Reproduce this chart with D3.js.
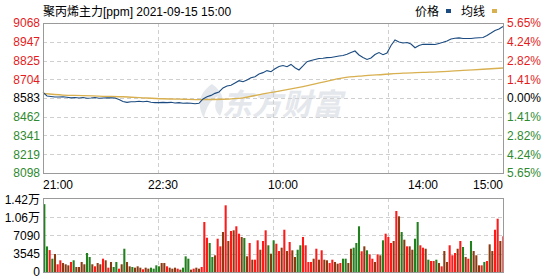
<!DOCTYPE html>
<html>
<head>
<meta charset="utf-8">
<script src="https://cdn.jsdelivr.net/npm/d3@7"></script>
<style>
  body { margin: 0; background: #fff; }
  svg text { font-family: "Liberation Sans", "Noto Sans CJK SC", sans-serif; }
</style>
</head>
<body>
<div id="chart"></div>
<script>
// trading minutes: 21:00-23:00, 9:00-10:15, 10:30-11:30, 13:30-15:00 => 345 min
var totalMinutes = 345;
var timeLabels = ["21:00", "22:30", "10:00", "14:00", "15:00"];
var timeLabelMinutes = [0, 90, 180, 285, 345];

var preClose = 8583;
var priceTicks = [9068, 8947, 8825, 8704, 8583, 8462, 8341, 8219, 8098];
var pctTicks = ["5.65%", "4.24%", "2.82%", "1.41%", "0.00%", "1.41%", "2.82%", "4.24%", "5.65%"];

var volTicks = [14180, 10635, 7090, 3545, 0];
var volTickLabels = ["1.42万", "1.06万", "7090", "3545", "0"];

// price, one point every 3 minutes
var price = [
  8619, 8596, 8593, 8589, 8589, 8591, 8588, 8584, 8586, 8583,
  8586, 8581, 8583, 8586, 8581, 8583, 8585, 8584, 8583, 8573,
  8560, 8555, 8559, 8559, 8562, 8559, 8562, 8555, 8553, 8553,
  8555, 8553, 8555, 8551, 8553, 8549, 8551, 8549, 8546, 8549,
  8577, 8591, 8600, 8613, 8622, 8648, 8661, 8665, 8680, 8695,
  8688, 8699, 8714, 8721, 8738, 8747, 8760, 8753, 8772, 8787,
  8793, 8785, 8800, 8779, 8764, 8790, 8818, 8826, 8832, 8838,
  8840, 8844, 8845, 8850, 8855, 8858, 8866, 8877, 8887, 8861,
  8845, 8832, 8842, 8864, 8877, 8863, 8874, 8923, 8958, 8945,
  8939, 8942, 8932, 8908, 8923, 8930, 8930, 8930, 8929, 8936,
  8943, 8952, 8965, 8969, 8972, 8968, 8968, 8968, 8971, 8973,
  8974, 8987, 9003, 9020, 9029, 9045
];

// average price, one point every 15 minutes
var avgPrice = [
  8612, 8602, 8599, 8594, 8591, 8584, 8578, 8575, 8573, 8575,
  8584, 8610, 8632, 8657, 8686, 8713, 8726, 8735, 8744, 8749,
  8754, 8762, 8769, 8777
];

// volume, one bar every 2 minutes
var volume = [
  13000, 4900, 4200, 2550, 3450, 1480, 2240, 1720, 1480, 1280,
  1920, 2240, 960, 960, 1920, 1480, 3640, 2870, 1480, 1090,
  1720, 1480, 2550, 2240, 830, 1920, 960, 1920, 640, 1480,
  4460, 1920, 1090, 960, 830, 1090, 830, 520, 830, 640,
  830, 640, 1280, 1090, 1720, 1720, 1090, 830, 640, 830,
  640, 450, 830, 3000, 2550, 450, 640, 830, 640, 960,
  9580, 6570, 5560, 2870, 3200, 6380, 4920, 7660, 12780, 5940,
  7860, 7990, 8760, 7340, 6710, 6510, 3010, 5560, 2360, 2360,
  6070, 4270, 5940, 7990, 5120, 3510, 6070, 5420, 4020, 4660,
  8100, 4020, 5750, 4160, 2870, 4270, 5120, 6710, 5120, 1920,
  1920, 2550, 4460, 2360, 4160, 2360, 2240, 1720, 2360, 1920,
  1590, 1720, 2550, 2550, 1720, 4460, 4660, 5560, 8760, 3970,
  4920, 4160, 3390, 2550, 1920, 3390, 3200, 6070, 7340, 6710,
  5560, 5940, 11690, 10670, 7660, 6190, 4920, 4920, 4270, 6380,
  9580, 5120, 4660, 4460, 2360, 2110, 2110, 2360, 1720, 1090,
  4020, 1920, 5120, 3200, 3640, 4460, 5940, 4790, 2870, 2550,
  5940, 4020, 3200, 1280, 1280, 1920, 2110, 5300, 4020, 8100,
  10210, 5940, 6840
];
// 1 = up, -1 = down, 0 = mixed inside the bar
var volumeDir = [
  -1, -1, 1, -1, 0, 1, 1, 0, 0, 0,
  1, -1, 0, 0, 0, 0, -1, -1, 0, 1,
  0, 0, 1, 0, 1, 0, -1, -1, 1, 0,
  -1, 0, 0, -1, 0, 0, 0, 1, 0, 0,
  -1, -1, -1, -1, 0, 0, 1, 0, 0, 0,
  1, 0, -1, -1, -1, 0, 1, 0, 0, 1,
  1, 1, -1, -1, 0, 1, 1, 0, 1, 0,
  1, 0, 1, 1, 0, -1, 0, 1, 0, 1,
  1, 0, 1, 1, -1, 0, -1, 1, 1, 0,
  1, 0, 1, 0, 0, -1, -1, 1, 1, 1,
  1, 0, 1, 0, 1, 0, 0, 1, 1, 0,
  0, 1, -1, -1, 0, 0, -1, -1, -1, 1,
  0, -1, 1, 1, 0, 1, 0, -1, 1, 1,
  1, 0, 1, 0, -1, 0, 1, 0, 0, -1,
  -1, 1, 1, 0, -1, 1, 1, -1, 0, 1,
  0, 0, 1, 1, 1, 0, 1, -1, 0, 1,
  -1, 0, 0, 0, 1, -1, 1, 0, 0, 1,
  1, 0, 1
];

var W = 546, H = 279;
var left = 43, right = 503;
var red = "#e41c1c", green = "#2f8a2f";

var svg = d3.select("#chart").append("svg")
  .attr("width", W)
  .attr("height", H)
  .style("display", "block");

var x = d3.scaleLinear().domain([0, totalMinutes]).range([left, right]);
var y = d3.scaleLinear().domain([8098, 9068]).range([173, 23]);
var yv = d3.scaleLinear().domain([0, 14180]).range([272, 198]);

function tickColor(v) {
  if (v > preClose) return red;
  if (v < preClose) return green;
  return "#000";
}

// ======== Watermark ========
var wm = svg.append("g").attr("fill", "#e4e7ec");
wm.append("path")
  .attr("d", "M212,84 C200,92 196,104 204,118 C206,108 210,100 218,96 C214,104 214,110 220,116 C226,104 224,92 212,84 Z");
wm.append("text")
  .attr("x", 222)
  .attr("y", 115)
  .attr("font-size", 30)
  .attr("font-weight", "bold")
  .attr("font-style", "italic")
  .style("font-family", "'Noto Sans CJK SC', sans-serif")
  .text("东方财富");

// ======== Grid ========
var grid = svg.append("g")
  .attr("stroke", "#cfcfcf")
  .attr("stroke-dasharray", "4,3")
  .attr("shape-rendering", "crispEdges");

grid.selectAll(".hgrid")
  .data(priceTicks.slice(1, -1))
  .enter().append("line")
  .attr("x1", left).attr("x2", right)
  .attr("y1", function (d) { return Math.round(y(d)) + 0.5; })
  .attr("y2", function (d) { return Math.round(y(d)) + 0.5; });

grid.selectAll(".vgrid")
  .data(volTicks.slice(1, -1))
  .enter().append("line")
  .attr("x1", left).attr("x2", right)
  .attr("y1", function (d) { return Math.round(yv(d)) + 0.5; })
  .attr("y2", function (d) { return Math.round(yv(d)) + 0.5; });

var quarterMinutes = [1, 2, 3].map(function (i) { return totalMinutes * i / 4; });
quarterMinutes.forEach(function (m) {
  var xx = Math.round(x(m)) + 0.5;
  grid.append("line").attr("x1", xx).attr("x2", xx).attr("y1", 23).attr("y2", 173);
  grid.append("line").attr("x1", xx).attr("x2", xx).attr("y1", 198).attr("y2", 272);
});

// ======== Volume bars ========
var barStep = 2;
svg.append("g").selectAll("rect")
  .data(volume)
  .enter().append("rect")
  .attr("x", function (d, i) { return x(i * barStep) + 0.3; })
  .attr("width", function (d, i) { return Math.max(0.5, x(Math.min((i + 1) * barStep, totalMinutes)) - x(i * barStep) - 0.6); })
  .attr("y", function (d) { return yv(d); })
  .attr("height", function (d) { return yv(0) - yv(d); })
  .attr("fill", function (d, i) {
    var s = volumeDir[i];
    return s > 0 ? "#ff1a1a" : (s < 0 ? "#23801f" : "#8a3a12");
  });

// ======== Lines ========
var avgLine = d3.line()
  .x(function (d, i) { return x(i * 15); })
  .y(function (d) { return y(d); })
  .curve(d3.curveMonotoneX);

svg.append("path")
  .datum(avgPrice)
  .attr("fill", "none")
  .attr("stroke", "#d8b050")
  .attr("stroke-width", 1.3)
  .attr("d", avgLine);

var priceLine = d3.line()
  .x(function (d, i) { return x(i * 3); })
  .y(function (d) { return y(d); });

svg.append("path")
  .datum(price)
  .attr("fill", "none")
  .attr("stroke", "#1b4b80")
  .attr("stroke-width", 1.1)
  .attr("d", priceLine);

// ======== Frames ========
var frame = svg.append("g")
  .attr("fill", "none")
  .attr("stroke", "#9a9a9a")
  .attr("shape-rendering", "crispEdges");
frame.append("rect").attr("x", left + 0.5).attr("y", 23.5).attr("width", right - left).attr("height", 150);
frame.append("rect").attr("x", left + 0.5).attr("y", 198.5).attr("width", right - left).attr("height", 74);

// ======== Axis labels ========
svg.append("g").selectAll("text")
  .data(priceTicks)
  .enter().append("text")
  .attr("x", 40)
  .attr("y", function (d) { return y(d); })
  .attr("dy", "0.36em")
  .attr("text-anchor", "end")
  .attr("font-size", 12)
  .attr("fill", tickColor)
  .text(function (d) { return d; });

svg.append("g").selectAll("text")
  .data(pctTicks)
  .enter().append("text")
  .attr("x", 507)
  .attr("y", function (d, i) { return y(priceTicks[i]); })
  .attr("dy", "0.36em")
  .attr("font-size", 12)
  .attr("fill", function (d, i) { return tickColor(priceTicks[i]); })
  .text(function (d) { return d; });

svg.append("g").selectAll("text")
  .data(timeLabels)
  .enter().append("text")
  .attr("x", function (d, i) { return x(timeLabelMinutes[i]); })
  .attr("y", 189)
  .attr("text-anchor", function (d, i) {
    return i == 0 ? "start" : (i == timeLabels.length - 1 ? "end" : "middle");
  })
  .attr("font-size", 12)
  .attr("fill", "#000")
  .text(function (d) { return d; });

// volume labels sit a little lower at the top, flush at the bottom
svg.append("g").selectAll("text")
  .data(volTicks)
  .enter().append("text")
  .attr("x", 40)
  .attr("y", function (d, i) { return yv(d) + 2 - i * 0.5; })
  .attr("dy", "0.34em")
  .attr("text-anchor", "end")
  .attr("font-size", 12)
  .attr("fill", "#000")
  .text(function (d, i) { return volTickLabels[i]; });

// ======== Title & legend ========
svg.append("text")
  .attr("x", 43)
  .attr("y", 16)
  .attr("font-size", 12)
  .attr("fill", "#000")
  .text("聚丙烯主力[ppm] 2021-09-15 15:00");

var legend = svg.append("g").attr("font-size", 12).attr("fill", "#000");
legend.append("text").attr("x", 415).attr("y", 16).text("价格");
legend.append("rect").attr("x", 446).attr("y", 9).attr("width", 5).attr("height", 4).attr("fill", "#1b4b80");
legend.append("text").attr("x", 461).attr("y", 16).text("均线");
legend.append("rect").attr("x", 492).attr("y", 9).attr("width", 5).attr("height", 4).attr("fill", "#d8b050");
</script>
</body>
</html>
